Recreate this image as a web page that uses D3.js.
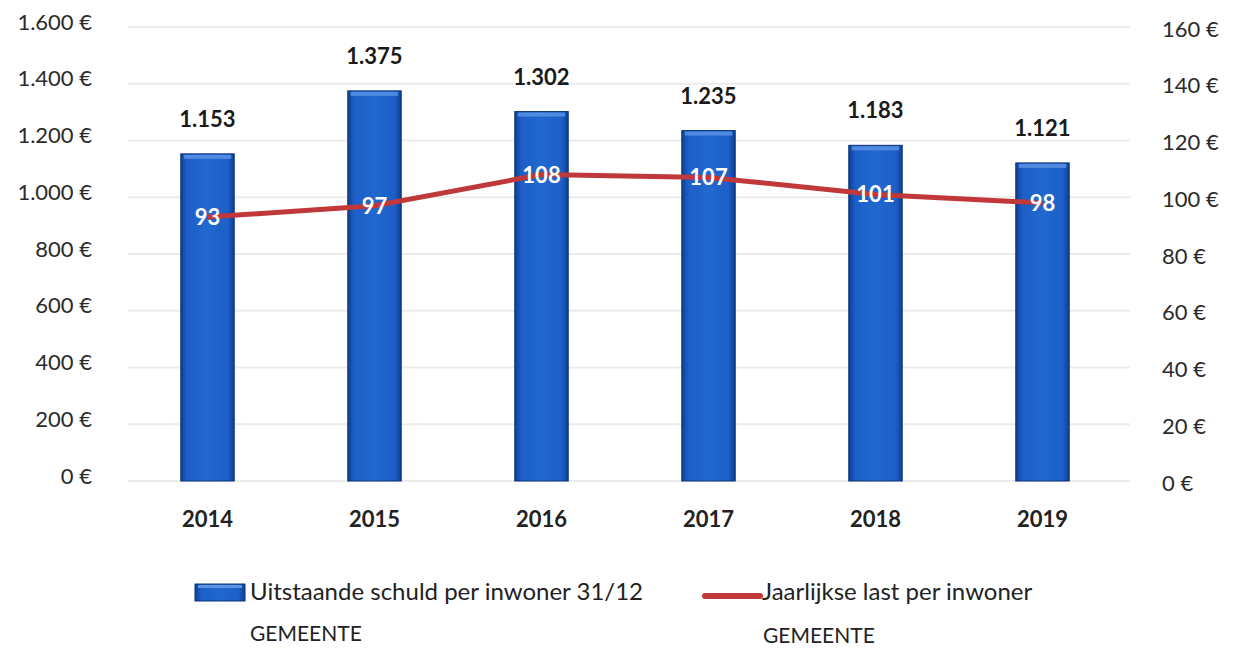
<!DOCTYPE html>
<html>
<head>
  <meta charset="utf-8">
  <title>Schuld per inwoner</title>
  <style>
    body { margin: 0; padding: 0; background: #ffffff; font-family: Lato, "Open Sans", sans-serif; }
    #chart { width: 1234px; height: 649px; }
    .axis text { fill: #2b2b2b; font-size: 22px; font-family: Lato, sans-serif; }
    .xaxis text { font-weight: bold; fill: #222; }
    .grid line { stroke: #ebebeb; stroke-width: 2; }
    .barlabel { fill: #1a1a1a; font-size: 22px; font-weight: bold; text-anchor: middle; }
    .linelabel { fill: #ffffff; font-size: 22px; font-weight: bold; text-anchor: middle; }
    .legend text { fill: #222; font-size: 24px; }
    .legend text.caps { font-size: 21px; }
  </style>
</head>
<body>
  <div id="chart"></div>

  <script src="https://d3js.org/d3.v7.min.js"></script>
  <script>

  // data
  var years = ["2014", "2015", "2016", "2017", "2018", "2019"]
  var schuld = [1153, 1375, 1302, 1235, 1183, 1121]   // Uitstaande schuld per inwoner 31/12
  var last = [93, 97, 108, 107, 101, 98]              // Jaarlijkse last per inwoner
  var leftTicks = [0, 200, 400, 600, 800, 1000, 1200, 1400, 1600]
  var rightTicks = [0, 20, 40, 60, 80, 100, 120, 140, 160]

  var width = 1234,
      height = 649

  var svg = d3.select("#chart")
      .append("svg")
      .attr("width", width)
      .attr("height", height)

  // gradient for the bars
  var defs = svg.append("defs")
  var grad = defs.append("linearGradient")
      .attr("id", "barGrad")
      .attr("x1", "0%").attr("x2", "100%")
  grad.append("stop").attr("offset", "0%").attr("stop-color", "#0e3f92")
  grad.append("stop").attr("offset", "12%").attr("stop-color", "#1d5fc6")
  grad.append("stop").attr("offset", "50%").attr("stop-color", "#2168cf")
  grad.append("stop").attr("offset", "88%").attr("stop-color", "#1d5fc6")
  grad.append("stop").attr("offset", "100%").attr("stop-color", "#0e3f92")

  var plotTop = 27,
      plotBottom = 481

  var x = d3.scaleBand()
      .domain(years)
      .range([124, 1126])
      .paddingInner(0.68)
      .paddingOuter(0.34)

  var yLeft = d3.scaleLinear()
      .domain([0, 1600])
      .range([plotBottom, plotTop])

  var yRight = d3.scaleLinear()
      .domain([0, 160])
      .range([plotBottom, plotTop])

  var fmt = d3.formatLocale({decimal: ",", thousands: ".", grouping: [3], currency: ["", " €"]}).format(",d")

  // gridlines
  svg.append("g")
      .attr("class", "grid")
      .selectAll("line")
      .data(leftTicks)
      .enter().append("line")
      .attr("x1", 128)
      .attr("x2", 1130)
      .attr("y1", function (d) { return yLeft(d) })
      .attr("y2", function (d) { return yLeft(d) })

  // left axis
  svg.append("g")
      .attr("class", "axis")
      .attr("transform", "translate(98,-5)")
      .call(d3.axisLeft(yLeft).tickValues(leftTicks).tickSize(0).tickPadding(6)
        .tickFormat(function (d) { return fmt(d) + " €" }))
      .call(function (g) { g.select(".domain").remove() })

  // right axis
  svg.append("g")
      .attr("class", "axis")
      .attr("transform", "translate(1156,2)")
      .call(d3.axisRight(yRight).tickValues(rightTicks).tickSize(0).tickPadding(6)
        .tickFormat(function (d) { return d + " €" }))
      .call(function (g) { g.select(".domain").remove() })

  // x axis
  svg.append("g")
      .attr("class", "axis xaxis")
      .attr("transform", "translate(0," + (plotBottom + 18) + ")")
      .call(d3.axisBottom(x).tickSize(0).tickPadding(12))
      .call(function (g) { g.select(".domain").remove() })

  // bars
  var bars = svg.append("g")
      .selectAll("g")
      .data(years)
      .enter().append("g")

  bars.append("rect")
      .attr("x", function (d) { return x(d) })
      .attr("y", function (d, i) { return yLeft(schuld[i]) })
      .attr("width", x.bandwidth())
      .attr("height", function (d, i) { return plotBottom - yLeft(schuld[i]) })
      .attr("fill", "url(#barGrad)")
      .attr("stroke", "#0b3478")
      .attr("stroke-width", 1)

  // bevel highlight at the top of each bar
  bars.append("rect")
      .attr("x", function (d) { return x(d) + 3 })
      .attr("y", function (d, i) { return yLeft(schuld[i]) + 1 })
      .attr("width", x.bandwidth() - 6)
      .attr("height", 4)
      .attr("fill", "#5d95e6")
      .attr("opacity", 0.8)

  bars.append("text")
      .attr("class", "barlabel")
      .attr("x", function (d) { return x(d) + x.bandwidth() / 2 })
      .attr("y", function (d, i) { return yLeft(schuld[i]) - 27 })
      .text(function (d, i) { return fmt(schuld[i]) })

  // line
  var line = d3.line()
      .x(function (d, i) { return x(years[i]) + x.bandwidth() / 2 })
      .y(function (d) { return yRight(d) })

  svg.append("path")
      .datum(last)
      .attr("d", line)
      .attr("fill", "none")
      .attr("stroke", "#c0383a")
      .attr("stroke-width", 5)

  svg.append("g")
      .selectAll("text")
      .data(last)
      .enter().append("text")
      .attr("class", "linelabel")
      .attr("x", function (d, i) { return x(years[i]) + x.bandwidth() / 2 })
      .attr("y", function (d) { return yRight(d) + 8 })
      .text(function (d) { return d })

  // legend
  var legend = svg.append("g").attr("class", "legend")

  legend.append("rect")
      .attr("x", 195).attr("y", 584)
      .attr("width", 50).attr("height", 17)
      .attr("fill", "url(#barGrad)")
      .attr("stroke", "#0b3478")
  legend.append("rect")
      .attr("x", 198).attr("y", 585)
      .attr("width", 44).attr("height", 3)
      .attr("fill", "#5d95e6")
  legend.append("text").attr("x", 250).attr("y", 600).text("Uitstaande schuld per inwoner 31/12")
  legend.append("text").attr("class", "caps").attr("x", 250).attr("y", 641).text("GEMEENTE")

  legend.append("line")
      .attr("x1", 705).attr("x2", 760)
      .attr("y1", 596).attr("y2", 596)
      .attr("stroke", "#c0383a")
      .attr("stroke-width", 6)
      .attr("stroke-linecap", "round")
  legend.append("text").attr("x", 762).attr("y", 600).text("Jaarlijkse last per inwoner")
  legend.append("text").attr("class", "caps").attr("x", 763).attr("y", 643).text("GEMEENTE")

  </script>
</body>
</html>
